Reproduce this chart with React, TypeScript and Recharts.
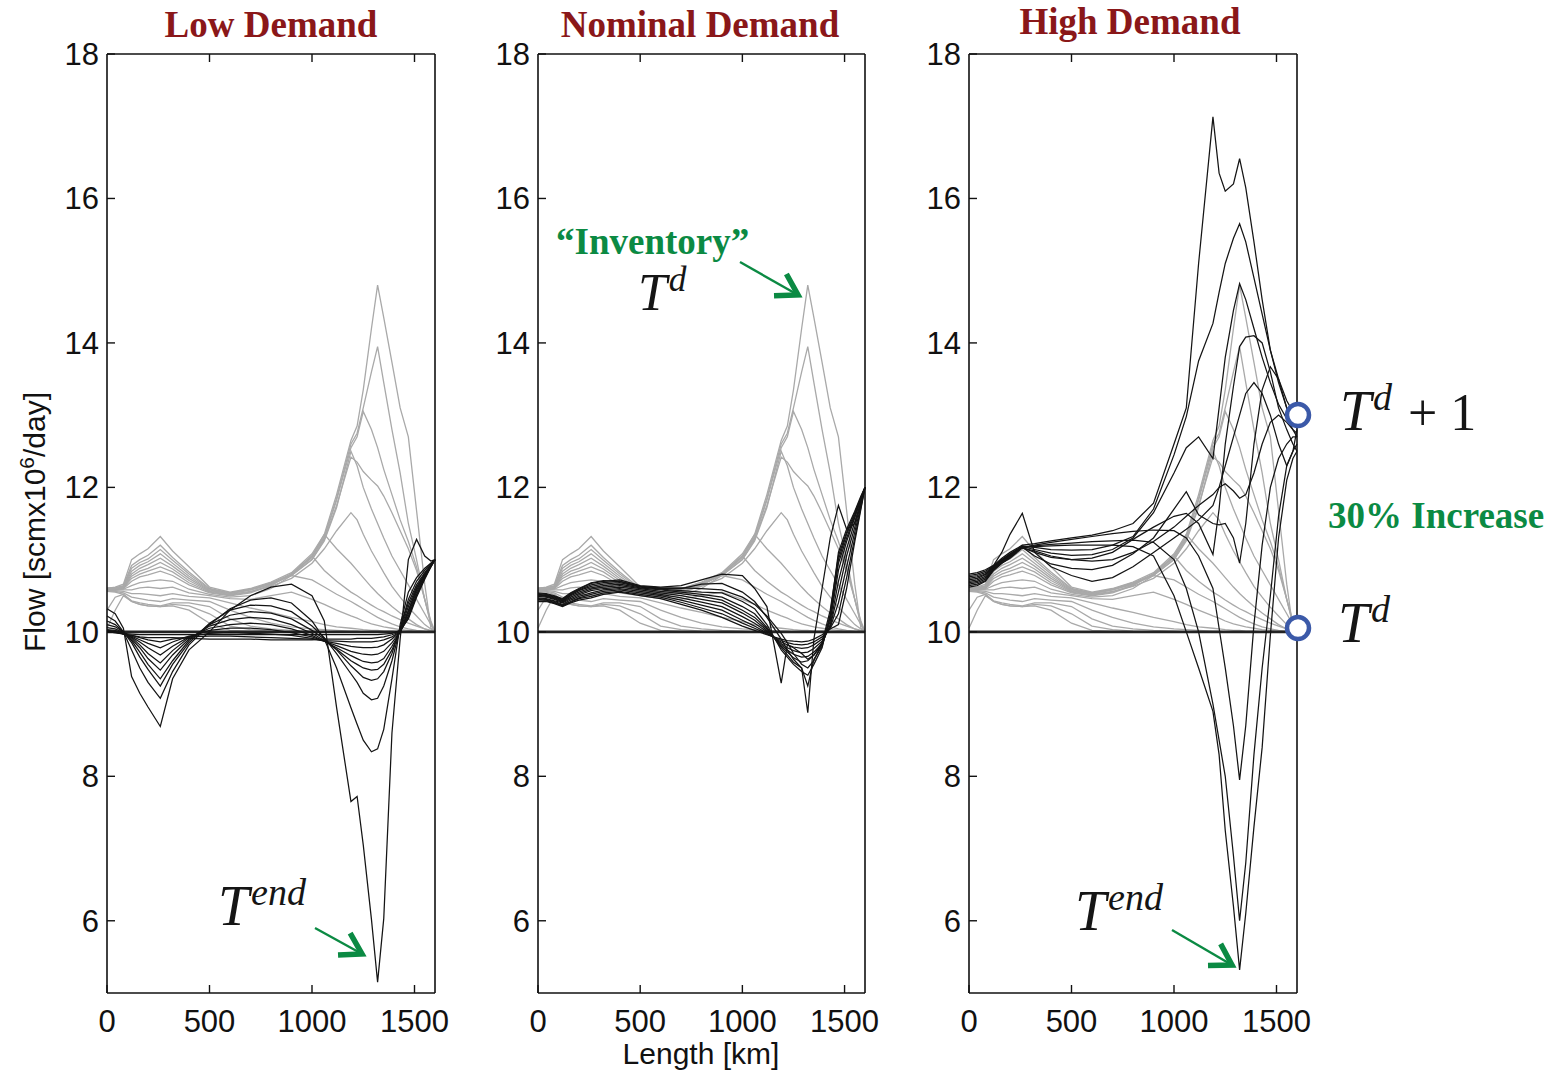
import React from 'react';
import { LineChart, Line, XAxis, YAxis, ReferenceLine } from 'recharts';

// ---------- shared axis categories (pipe length, km) ----------
const X = [0, 40, 80, 120, 160, 200, 260, 320, 400, 500, 600, 700, 800, 900, 1000, 1060, 1120, 1190, 1220, 1250, 1290, 1320, 1350, 1390, 1430, 1470, 1510, 1550, 1580, 1600];
const X_TICKS = [0, 500, 1000, 1500];
const Y_TICKS = [6, 8, 10, 12, 14, 16, 18];

// ---------- gray profiles (t < T^d), same in all panels ----------
const G1 = [10.05, 10.3, 10.5, 10.42, 10.38, 10.36, 10.35, 10.36, 10.3, 10.12, 10.02, 10.01, 10, 10, 10, 10, 10, 10, 10, 10, 10, 10, 10, 10, 10, 10, 10, 10, 10, 10];
const G2 = [10.3, 10.48, 10.52, 10.42, 10.38, 10.36, 10.35, 10.38, 10.36, 10.25, 10.08, 10.03, 10.01, 10, 10, 10, 10, 10, 10, 10, 10, 10, 10, 10, 10, 10, 10, 10, 10, 10];
const G3 = [10.56, 10.55, 10.52, 10.43, 10.4, 10.38, 10.36, 10.4, 10.4, 10.35, 10.18, 10.08, 10.04, 10.02, 10.01, 10, 10, 10, 10, 10, 10, 10, 10, 10, 10, 10, 10, 10, 10, 10];
const G4 = [10.57, 10.56, 10.54, 10.48, 10.46, 10.44, 10.42, 10.46, 10.44, 10.42, 10.3, 10.2, 10.12, 10.07, 10.04, 10.03, 10.02, 10.01, 10.01, 10, 10, 10, 10, 10, 10, 10, 10, 10, 10, 10];
const G5 = [10.57, 10.57, 10.56, 10.53, 10.53, 10.52, 10.5, 10.53, 10.49, 10.47, 10.4, 10.33, 10.27, 10.2, 10.14, 10.1, 10.07, 10.05, 10.04, 10.03, 10.02, 10.02, 10.01, 10.01, 10, 10, 10, 10, 10, 10];
const G6 = [10.58, 10.58, 10.58, 10.58, 10.61, 10.62, 10.6, 10.62, 10.54, 10.5, 10.46, 10.45, 10.5, 10.55, 10.45, 10.38, 10.3, 10.22, 10.19, 10.15, 10.11, 10.09, 10.07, 10.05, 10.03, 10.02, 10.01, 10, 10, 10];
const G7 = [10.58, 10.58, 10.59, 10.64, 10.68, 10.7, 10.72, 10.7, 10.59, 10.52, 10.48, 10.5, 10.6, 10.78, 10.72, 10.62, 10.52, 10.42, 10.37, 10.32, 10.25, 10.2, 10.16, 10.11, 10.07, 10.04, 10.02, 10.01, 10, 10];
const G8 = [10.59, 10.59, 10.6, 10.7, 10.76, 10.79, 10.84, 10.78, 10.65, 10.54, 10.5, 10.54, 10.64, 10.8, 11.05, 11.35, 11.15, 10.95, 10.85, 10.75, 10.62, 10.53, 10.45, 10.35, 10.26, 10.18, 10.1, 10.04, 10.01, 10];
const G9 = [10.59, 10.6, 10.61, 10.77, 10.84, 10.88, 10.96, 10.87, 10.71, 10.56, 10.52, 10.56, 10.63, 10.74, 10.95, 11.15, 11.4, 11.65, 11.55, 11.35, 11.12, 10.97, 10.82, 10.63, 10.48, 10.34, 10.22, 10.1, 10.04, 10];
const G10 = [10.6, 10.6, 10.62, 10.84, 10.92, 10.97, 11.08, 10.95, 10.77, 10.58, 10.53, 10.58, 10.66, 10.78, 11.0, 11.28, 11.75, 12.42, 12.35, 12.22, 12.1, 12.02, 11.88, 11.65, 11.4, 11.15, 10.85, 10.45, 10.15, 10];
const G11 = [10.6, 10.61, 10.64, 10.92, 11.0, 11.06, 11.2, 11.03, 10.83, 10.6, 10.54, 10.59, 10.68, 10.8, 11.05, 11.32, 11.85, 12.6, 12.75, 13.1, 13.6, 13.95, 13.45, 12.8, 12.2, 11.5, 11.0, 10.45, 10.1, 10];
const G12 = [10.6, 10.62, 10.66, 11.0, 11.08, 11.15, 11.32, 11.12, 10.9, 10.62, 10.55, 10.6, 10.69, 10.82, 11.08, 11.35, 11.9, 12.65, 12.85, 13.35, 14.2, 14.8, 14.35, 13.73, 13.1, 12.7, 11.68, 10.66, 10.05, 10];
const G13 = [10.6, 10.61, 10.63, 10.88, 10.96, 11.01, 11.14, 10.99, 10.8, 10.59, 10.54, 10.59, 10.67, 10.79, 11.03, 11.3, 11.82, 12.55, 12.7, 13.05, 12.8, 12.55, 12.25, 11.9, 11.55, 11.25, 10.9, 10.45, 10.12, 10];
const G14 = [10.59, 10.6, 10.61, 10.74, 10.8, 10.84, 10.9, 10.83, 10.68, 10.55, 10.51, 10.55, 10.65, 10.8, 11.05, 10.85, 10.7, 10.55, 10.5, 10.44, 10.37, 10.32, 10.28, 10.22, 10.17, 10.12, 10.08, 10.04, 10.02, 10];
const G15 = [10.6, 10.6, 10.62, 10.8, 10.88, 10.93, 11.02, 10.91, 10.74, 10.57, 10.53, 10.58, 10.66, 10.78, 11.0, 11.26, 11.72, 12.5, 12.3, 12.0, 11.7, 11.5, 11.3, 11.05, 10.85, 10.65, 10.45, 10.25, 10.1, 10];
const GRAY = [G1, G2, G3, G4, G5, G6, G7, G8, G9, G10, G11, G12, G13, G14, G15];

// ---------- Low Demand, black profiles (t > T^d) ----------
const L1 = [10.0, 9.99, 9.98, 9.97, 9.96, 9.96, 9.96, 9.96, 9.96, 9.96, 9.96, 9.96, 9.96, 9.96, 9.96, 9.96, 9.96, 9.96, 9.96, 9.96, 9.96, 9.96, 9.97, 9.98, 10.02, 10.18, 10.48, 10.73, 10.9, 11.0];
const L2 = [10.0, 9.99, 9.97, 9.95, 9.93, 9.92, 9.92, 9.92, 9.91, 9.9, 9.9, 9.9, 9.89, 9.89, 9.89, 9.9, 9.9, 9.9, 9.91, 9.91, 9.91, 9.92, 9.93, 9.96, 10.0, 10.2, 10.5, 10.75, 10.9, 11.0];
const L3 = [10.0, 10.0, 9.97, 9.95, 9.92, 9.89, 9.86, 9.9, 9.93, 9.94, 9.94, 9.93, 9.92, 9.91, 9.9, 9.88, 9.87, 9.86, 9.86, 9.86, 9.86, 9.87, 9.89, 9.93, 10.0, 10.22, 10.52, 10.76, 10.91, 11.0];
const L4 = [10.01, 10.0, 9.97, 9.94, 9.89, 9.84, 9.78, 9.86, 9.94, 9.98, 9.99, 9.98, 9.97, 9.95, 9.91, 9.87, 9.84, 9.8, 9.79, 9.78, 9.78, 9.79, 9.82, 9.9, 10.0, 10.25, 10.55, 10.78, 10.92, 11.0];
const L5 = [10.02, 10.01, 9.97, 9.93, 9.86, 9.78, 9.68, 9.8, 9.93, 10.02, 10.05, 10.05, 10.03, 9.99, 9.93, 9.87, 9.81, 9.73, 9.71, 9.69, 9.68, 9.69, 9.73, 9.85, 10.0, 10.28, 10.58, 10.78, 10.92, 11.0];
const L6 = [10.03, 10.02, 9.98, 9.92, 9.82, 9.7, 9.57, 9.74, 9.92, 10.05, 10.1, 10.12, 10.1, 10.04, 9.95, 9.87, 9.78, 9.67, 9.63, 9.59, 9.57, 9.58, 9.63, 9.8, 10.0, 10.3, 10.6, 10.8, 10.92, 11.0];
const L7 = [10.06, 10.04, 9.99, 9.9, 9.78, 9.63, 9.47, 9.68, 9.9, 10.08, 10.17, 10.2, 10.18, 10.1, 9.98, 9.88, 9.76, 9.6, 9.55, 9.5, 9.47, 9.48, 9.55, 9.75, 10.02, 10.35, 10.62, 10.8, 10.92, 11.0];
const L8 = [10.1, 10.07, 10.0, 9.88, 9.72, 9.55, 9.35, 9.6, 9.88, 10.1, 10.23, 10.28, 10.26, 10.18, 10.02, 9.9, 9.75, 9.53, 9.45, 9.37, 9.33, 9.35, 9.45, 9.7, 10.05, 10.4, 10.65, 10.82, 10.93, 11.0];
const L9 = [10.15, 10.1, 10.0, 9.85, 9.65, 9.48, 9.25, 9.55, 9.85, 10.12, 10.3, 10.37, 10.36, 10.28, 10.08, 9.92, 9.7, 9.42, 9.3, 9.15, 9.06, 9.08, 9.25, 9.6, 10.05, 10.45, 10.7, 10.85, 10.95, 11.0];
const L10 = [10.22, 10.15, 10.0, 9.75, 9.5, 9.3, 9.08, 9.45, 9.82, 10.1, 10.32, 10.44, 10.47, 10.4, 10.15, 9.9, 9.5, 8.95, 8.72, 8.5, 8.34, 8.38, 8.65, 9.35, 10.1, 10.55, 10.75, 10.88, 10.95, 11.0];
const L11 = [10.32, 10.25, 10.05, 9.38, 9.15, 8.96, 8.69, 9.35, 9.75, 10.0, 10.3, 10.5, 10.62, 10.66, 10.5, 10.15, 8.95, 7.65, 7.72, 7.05, 6.02, 5.15, 6.03, 8.6, 9.9, 11.0, 11.28, 11.05, 10.98, 11.0];
const LOW = [L1, L2, L3, L4, L5, L6, L7, L8, L9, L10, L11];

// ---------- Nominal Demand, black profiles ----------
const N1 = [10.42, 10.42, 10.39, 10.35, 10.4, 10.44, 10.47, 10.52, 10.55, 10.5, 10.46, 10.38, 10.3, 10.2, 10.08, 10.02, 9.96, 9.9, 9.88, 9.87, 9.86, 9.87, 9.9, 9.96, 10.04, 10.1, 10.6, 11.25, 11.7, 12.0];
const N2 = [10.43, 10.43, 10.4, 10.36, 10.41, 10.46, 10.49, 10.54, 10.56, 10.52, 10.48, 10.41, 10.33, 10.25, 10.12, 10.05, 9.97, 9.88, 9.85, 9.83, 9.82, 9.83, 9.86, 9.93, 10.05, 10.25, 10.75, 11.3, 11.72, 12.0];
const N3 = [10.45, 10.44, 10.41, 10.37, 10.42, 10.47, 10.52, 10.56, 10.58, 10.54, 10.5, 10.44, 10.37, 10.3, 10.16, 10.08, 9.98, 9.86, 9.82, 9.79, 9.77, 9.78, 9.82, 9.9, 10.06, 10.4, 10.9, 11.38, 11.75, 12.0];
const N4 = [10.46, 10.45, 10.42, 10.38, 10.44, 10.49, 10.54, 10.58, 10.6, 10.56, 10.52, 10.47, 10.41, 10.35, 10.21, 10.12, 10.0, 9.84, 9.78, 9.74, 9.71, 9.72, 9.77, 9.87, 10.08, 10.55, 11.05, 11.45, 11.78, 12.0];
const N5 = [10.47, 10.46, 10.43, 10.4, 10.46, 10.51, 10.57, 10.6, 10.62, 10.58, 10.54, 10.5, 10.45, 10.4, 10.26, 10.16, 10.02, 9.82, 9.75, 9.69, 9.65, 9.66, 9.72, 9.84, 10.1, 10.7, 11.15, 11.52, 11.8, 12.0];
const N6 = [10.49, 10.48, 10.45, 10.41, 10.48, 10.53, 10.59, 10.62, 10.64, 10.6, 10.56, 10.53, 10.49, 10.44, 10.3, 10.2, 10.04, 9.8, 9.72, 9.64, 9.58, 9.6, 9.68, 9.82, 10.15, 10.85, 11.25, 11.58, 11.83, 12.0];
const N7 = [10.5, 10.49, 10.46, 10.42, 10.5, 10.55, 10.61, 10.64, 10.66, 10.61, 10.58, 10.55, 10.52, 10.48, 10.35, 10.25, 10.06, 9.78, 9.68, 9.58, 9.5, 9.25, 9.62, 9.8, 10.2, 11.0, 11.35, 11.62, 11.85, 12.0];
const N8 = [10.51, 10.5, 10.47, 10.43, 10.51, 10.57, 10.63, 10.66, 10.68, 10.62, 10.59, 10.57, 10.55, 10.54, 10.42, 10.32, 10.1, 9.75, 9.65, 9.55, 9.45, 9.4, 9.55, 9.78, 10.25, 11.1, 11.42, 11.67, 11.88, 12.0];
const N9 = [10.52, 10.51, 10.48, 10.44, 10.52, 10.58, 10.65, 10.68, 10.7, 10.63, 10.6, 10.6, 10.66, 10.67, 10.55, 10.42, 10.2, 9.9, 9.75, 9.62, 9.5, 8.88, 9.9, 10.6, 11.3, 11.75, 11.42, 11.5, 11.8, 12.0];
const N10 = [10.53, 10.52, 10.49, 10.45, 10.53, 10.59, 10.67, 10.7, 10.72, 10.64, 10.62, 10.64, 10.72, 10.8, 10.78, 10.6, 10.35, 9.29, 9.82, 9.78, 9.7, 9.62, 9.68, 9.85, 10.2, 10.95, 11.3, 11.6, 11.85, 12.0];
const N11 = [10.54, 10.53, 10.5, 10.46, 10.54, 10.6, 10.68, 10.71, 10.7, 10.63, 10.61, 10.61, 10.6, 10.58, 10.48, 10.38, 10.22, 9.98, 9.85, 9.7, 9.55, 9.5, 9.6, 9.85, 10.3, 11.05, 11.38, 11.65, 11.86, 12.0];
const NOMINAL = [N1, N2, N3, N4, N5, N6, N7, N8, N9, N10, N11];

// ---------- High Demand, black profiles ----------
const H1 = [10.78, 10.8, 10.84, 10.92, 11.02, 11.1, 11.2, 11.22, 11.26, 11.3, 11.34, 11.4, 11.5, 11.78, 12.6, 13.1, 15.1, 17.13, 16.35, 16.1, 16.2, 16.55, 16.15, 15.4, 14.6, 13.9, 13.5, 13.1, 12.95, 12.9];
const H2 = [10.76, 10.78, 10.82, 10.91, 11.0, 11.08, 11.19, 11.17, 11.14, 11.13, 11.14, 11.2, 11.32, 11.7, 12.45, 12.98, 13.75, 14.27, 14.7, 15.1, 15.45, 15.65, 15.4, 14.9, 14.4, 13.9, 13.45, 13.1, 12.9, 12.85];
const H3 = [10.74, 10.76, 10.8, 10.9, 10.99, 11.07, 11.18, 11.14, 11.09, 11.06, 11.07, 11.14, 11.3, 11.65, 12.2, 12.55, 12.7, 12.4, 13.1, 13.8, 14.45, 14.82, 14.6, 14.2, 13.8, 13.45, 13.15, 12.95, 12.8, 12.75];
const H4 = [10.72, 10.74, 10.79, 10.9, 10.99, 11.07, 11.17, 11.1, 11.03, 11.0, 11.02, 11.1, 11.28, 11.45, 11.6, 11.64, 11.5, 11.07, 11.7, 12.6, 13.4, 13.95, 14.08, 14.1, 14.0, 13.6, 13.1, 12.8, 12.6, 12.5];
const H5 = [10.7, 10.72, 10.77, 10.89, 10.98, 11.06, 11.17, 11.05, 10.94, 10.88, 10.86, 10.92, 11.08, 11.3, 11.7, 11.94, 11.62, 11.5, 11.48, 11.5, 11.3, 10.95, 11.5, 12.6, 13.35, 13.67, 13.5, 13.2, 13.05, 13.0];
const H6 = [10.8, 10.82, 10.86, 10.92, 11.1, 11.35, 11.64, 11.1, 10.9, 10.78, 10.7, 10.75, 10.9, 11.1, 11.3, 11.42, 11.55, 11.75, 12.0, 12.3, 12.7, 13.0, 13.3, 13.45, 13.3, 13.0, 12.6, 12.3, 12.5, 12.8];
const H7 = [10.68, 10.7, 10.75, 10.88, 10.97, 11.05, 11.17, 11.2, 11.24, 11.28, 11.32, 11.36, 11.39, 11.41, 11.4, 11.3, 11.05, 10.6, 10.05, 9.5, 8.7, 7.95, 8.7, 10.1, 11.2, 12.0, 12.4, 12.6, 12.7, 12.7];
const H8 = [10.66, 10.68, 10.73, 10.87, 10.96, 11.04, 11.17, 11.19, 11.21, 11.23, 11.25, 11.26, 11.27, 11.24, 11.0, 10.6, 10.0, 9.0, 8.5, 8.0, 6.9, 6.0, 6.8, 8.3, 9.5, 10.5, 11.6, 12.3, 12.5, 12.6];
const H9 = [10.64, 10.66, 10.71, 10.86, 10.95, 11.03, 11.17, 11.18, 11.19, 11.2, 11.2, 11.2, 11.18, 11.05, 10.5, 10.0, 9.5, 8.9, 8.3, 7.25, 6.2, 5.32, 6.1, 7.3, 8.4, 9.95, 11.3, 12.1, 12.4, 12.5];
const H10 = [10.62, 10.64, 10.7, 10.85, 10.95, 11.02, 11.16, 11.12, 11.05, 11.0, 10.98, 11.0, 11.1, 11.25, 11.45, 11.6, 11.75, 11.9, 12.0, 12.05, 11.95, 11.85, 11.9, 12.2, 12.6, 12.9, 13.0, 12.9, 12.8, 12.7];
const HIGH = [H1, H2, H3, H4, H5, H6, H7, H8, H9, H10];

// ---------- styling ----------
const SANS = '"Liberation Sans", Arial, Helvetica, sans-serif';
const SERIF = '"Liberation Serif", "Times New Roman", Times, serif';
const GREEN = '#0b8a43';
const RED = '#8a1719';
const AXIS = '#111';

function buildRows(gray: number[][], black: number[][]) {
  return X.map((x, i) => {
    const row: Record<string, number> = { x };
    gray.forEach((g, k) => { row['g' + k] = g[i]; });
    black.forEach((b, k) => { row['b' + k] = b[i]; });
    return row;
  });
}

const LeftTick = (p: any) => (
  <g>
    <line x1={p.x} y1={p.y} x2={p.x + 8} y2={p.y} stroke={AXIS} strokeWidth={1.4} />
    <text x={p.x - 8} y={p.y + 11} textAnchor="end" fontSize={31} fontFamily={SANS} fill="#111">{p.payload.value}</text>
  </g>
);
const RightTick = (p: any) => (
  <line x1={p.x} y1={p.y} x2={p.x - 8} y2={p.y} stroke={AXIS} strokeWidth={1.4} />
);
const BottomTick = (p: any) => (
  <g>
    <line x1={p.x} y1={p.y} x2={p.x} y2={p.y - 8} stroke={AXIS} strokeWidth={1.4} />
    <text x={p.x} y={p.y + 39} textAnchor="middle" fontSize={31} fontFamily={SANS} fill="#111">{p.payload.value}</text>
  </g>
);
const TopTick = (p: any) => (
  <line x1={p.x} y1={p.y} x2={p.x} y2={p.y + 8} stroke={AXIS} strokeWidth={1.4} />
);

const RIGHT_PAD = 40;

function Panel({ left, plotW, gray, black }: { left: number; plotW: number; gray: number[][]; black: number[][] }) {
  const rows = buildRows(gray, black);
  const axisLine = { stroke: AXIS, strokeWidth: 1.6 };
  return (
    <div style={{ position: 'absolute', left, top: 0 }}>
      <LineChart width={100 + plotW + 10 + RIGHT_PAD} height={1074} data={rows} margin={{ top: 44, right: RIGHT_PAD, bottom: 41, left: 0 }}>
        <XAxis xAxisId="b" dataKey="x" type="number" domain={[0, 1600]} ticks={X_TICKS} interval={0}
          height={40} tickSize={0} tickMargin={0} tickLine={false} axisLine={axisLine} tick={(p: any) => <BottomTick {...p} />} />
        <XAxis xAxisId="t" orientation="top" dataKey="x" type="number" domain={[0, 1600]} ticks={[500, 1000, 1500]} interval={0}
          height={10} tickSize={0} tickMargin={0} tickLine={false} axisLine={axisLine} tick={(p: any) => <TopTick {...p} />} />
        <YAxis yAxisId="l" type="number" domain={[5, 18]} ticks={Y_TICKS} interval={0}
          width={100} tickSize={0} tickMargin={0} tickLine={false} axisLine={axisLine} tick={(p: any) => <LeftTick {...p} />} />
        <YAxis yAxisId="r" orientation="right" type="number" domain={[5, 18]} ticks={[6, 8, 10, 12, 14, 16]} interval={0}
          width={10} tickSize={0} tickMargin={0} tickLine={false} axisLine={axisLine} tick={(p: any) => <RightTick {...p} />} />
        {gray.map((_, k) => (
          <Line key={'g' + k} xAxisId="b" yAxisId="l" dataKey={'g' + k} type="linear" stroke="#a9a9a9" strokeWidth={1.3}
            dot={false} activeDot={false} isAnimationActive={false} />
        ))}
        <ReferenceLine xAxisId="b" yAxisId="l" y={10} stroke="#222" strokeWidth={2.6} />
        {black.map((_, k) => (
          <Line key={'b' + k} xAxisId="b" yAxisId="l" dataKey={'b' + k} type="linear" stroke="#141414" strokeWidth={1.25}
            dot={false} activeDot={false} isAnimationActive={false} />
        ))}
      </LineChart>
    </div>
  );
}

function Arrow({ x1, y1, x2, y2 }: { x1: number; y1: number; x2: number; y2: number }) {
  const a = Math.atan2(y2 - y1, x2 - x1);
  const L = 24;
  const w = 0.55;
  const p1 = `${x2 - L * Math.cos(a - w)},${y2 - L * Math.sin(a - w)}`;
  const p2 = `${x2 - L * Math.cos(a + w)},${y2 - L * Math.sin(a + w)}`;
  return (
    <g>
      <line x1={x1} y1={y1} x2={x2 - 4 * Math.cos(a)} y2={y2 - 4 * Math.sin(a)} stroke={GREEN} strokeWidth={2.4} />
      <polyline points={`${p1} ${x2},${y2} ${p2}`} fill="none" stroke={GREEN} strokeWidth={5.5} strokeLinejoin="miter" strokeLinecap="butt" />
    </g>
  );
}

function MathT({ x, y, sup, size = 56 }: { x: number; y: number; sup: string; size?: number }) {
  return (
    <g fontFamily={SERIF} fill="#151515" fontStyle="italic">
      <text x={x} y={y} fontSize={size}>T</text>
      <text x={x + size * 0.59} y={y - size * 0.36} fontSize={size * 0.68}>{sup}</text>
    </g>
  );
}

export default function App() {
  return (
    <div style={{ position: 'absolute', left: 0, top: 0, width: 1564, height: 1074, background: '#fff', overflow: 'hidden' }}>
      <Panel left={7} plotW={328} gray={GRAY} black={LOW} />
      <Panel left={438} plotW={327} gray={GRAY} black={NOMINAL} />
      <Panel left={869} plotW={328} gray={GRAY} black={HIGH} />
      <svg width={1564} height={1074} style={{ position: 'absolute', left: 0, top: 0, pointerEvents: 'none' }}>
        {/* panel titles */}
        <g fontFamily={SERIF} fontWeight="bold" fontSize={37} fill={RED} textAnchor="middle">
          <text x={271} y={37}>Low Demand</text>
          <text x={700} y={37}>Nominal Demand</text>
          <text x={1130} y={34}>High Demand</text>
        </g>
        {/* axis titles */}
        <text x={701} y={1064} textAnchor="middle" fontFamily={SANS} fontSize={30} fill="#111">Length [km]</text>
        <text x={45} y={522} textAnchor="middle" fontFamily={SANS} fontSize={30} fill="#111" transform="rotate(-90 45 522)">
          Flow [scmx10<tspan dy={-11} fontSize={21}>6</tspan><tspan dy={11}>/day]</tspan>
        </text>
        {/* annotations */}
        <MathT x={218} y={925} sup="end" />
        <Arrow x1={315} y1={928} x2={362} y2={954} />
        <text x={556} y={254} fontFamily={SERIF} fontWeight="bold" fontSize={37} fill={GREEN}>“Inventory”</text>
        <MathT x={638} y={310} sup="d" size={52} />
        <Arrow x1={740} y1={262} x2={798} y2={295} />
        <MathT x={1075} y={930} sup="end" />
        <Arrow x1={1172} y1={930} x2={1232} y2={965} />
        <circle cx={1298} cy={415} r={11} fill="#fff" stroke="#3b59a8" strokeWidth={4.5} />
        <circle cx={1298} cy={628} r={11} fill="#fff" stroke="#3b59a8" strokeWidth={4.5} />
        <MathT x={1340} y={430} sup="d" />
        <text x={1408} y={430} fontFamily={SERIF} fontSize={52} fill="#151515">+ 1</text>
        <text x={1328} y={528} fontFamily={SERIF} fontWeight="bold" fontSize={37} fill={GREEN}>30% Increase</text>
        <MathT x={1338} y={642} sup="d" />
      </svg>
    </div>
  );
}
